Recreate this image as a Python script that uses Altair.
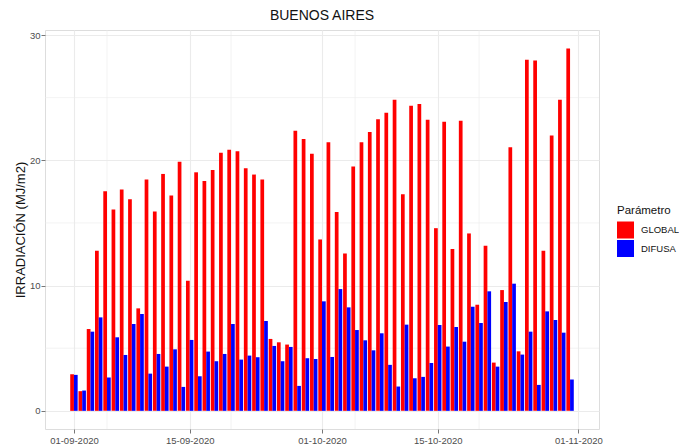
import altair as alt
import pandas as pd

fechas = pd.date_range("2020-09-01", "2020-10-31", freq="D").strftime("%Y-%m-%d").tolist()

global_vals = [2.92, 1.57, 6.53, 12.78, 17.53, 16.07, 17.66, 16.89, 8.18, 18.46,
               15.91, 18.91, 17.18, 19.89, 10.39, 19.04, 18.35, 19.23, 20.61, 20.85,
               20.72, 19.36, 18.86, 18.46, 5.74, 5.47, 5.29, 22.36, 21.70, 20.53,
               13.68, 21.43, 15.88, 12.56, 19.50, 21.43, 22.26, 23.27, 23.80, 24.83,
               17.29, 24.35, 24.49, 23.24, 14.58, 23.08, 12.91, 23.16, 14.16, 8.47,
               13.17, 3.85, 9.64, 21.04, 4.75, 28.02, 27.97, 12.78, 21.97, 24.83, 28.92]

difusa_vals = [2.87, 1.62, 6.32, 7.46, 2.66, 5.87, 4.46, 6.93, 7.73, 2.97,
               4.54, 3.53, 4.91, 1.91, 5.66, 2.76, 4.73, 3.96, 4.54, 6.93,
               4.09, 4.41, 4.28, 7.17, 5.18, 3.96, 5.10, 1.99, 4.20, 4.14,
               8.74, 4.30, 9.72, 8.26, 6.45, 5.63, 4.83, 6.19, 3.67, 1.94,
               6.88, 2.60, 2.71, 3.82, 6.85, 5.13, 6.69, 5.52, 8.31, 7.01,
               9.54, 3.53, 8.69, 10.15, 4.49, 6.32, 2.07, 7.94, 7.25, 6.24, 2.50]

parametros = ["GLOBAL", "DIFUSA"]
colores = ["#FF0000", "#0000FF"]

x_major = ["2020-09-01", "2020-09-15", "2020-10-01", "2020-10-15", "2020-11-01"]
x_minor = ["2020-09-05", "2020-09-20", "2020-10-05", "2020-10-20"]
y_major = [0, 10, 20, 30]
y_minor = [5, 15, 25]

FONT = "Liberation Sans"
GRID = "#EBEBEB"

df = pd.DataFrame({"fecha": fechas, "GLOBAL": global_vals, "DIFUSA": difusa_vals})

def dt(s, h=0):
    y, m, d = [int(v) for v in s.split("-")]
    return alt.DateTime(year=y, month=m, date=d, hours=h, utc=True)

x_scale = alt.Scale(type="utc", domain=[dt("2020-08-28", 12), dt("2020-11-03", 12)], nice=False)
y_scale = alt.Scale(domain=[-1.45, 30.4], nice=False, zero=False)

x_axis = alt.Axis(values=[dt(s) for s in x_major],
                  labelExpr="utcFormat(datum.value, '%d-%m-%Y')",
                  title=None, grid=True, gridColor=GRID, gridWidth=1.1,
                  labelFontSize=9.5, labelColor="#4D4D4D", labelFont=FONT,
                  tickColor="#777777", tickSize=4, labelPadding=2, domain=False,
                  labelFlush=False)
y_axis = alt.Axis(values=y_major, title="IRRADIACIÓN (MJ/m2)", grid=True,
                  gridColor=GRID, gridWidth=1.1, labelFontSize=9.5,
                  labelColor="#4D4D4D", labelFont=FONT, tickColor="#777777",
                  tickSize=4, labelPadding=1, domain=False,
                  titleFont=FONT, titleFontSize=13, titleFontWeight="normal",
                  titleColor="#111111", titleX=-25, titleY=199.5,
                  titleAngle=270, titleAlign="center", titleBaseline="middle")

bars = alt.Chart(df).transform_fold(
    parametros, as_=["param", "valor"]
).transform_calculate(
    x0="time(toDate(datum.fecha)) + (datum.param == 'GLOBAL' ? -0.45 : 0) * 86400000",
).transform_calculate(
    x1="datum.x0 + 0.45 * 86400000"
).mark_bar(strokeWidth=0).encode(
    x=alt.X("x0:T", scale=x_scale, axis=x_axis),
    x2="x1:T",
    y=alt.Y("valor:Q", scale=y_scale, axis=y_axis),
    y2=alt.datum(0),
    color=alt.Color("param:N", scale=alt.Scale(domain=parametros, range=colores),
                    sort=parametros,
                    legend=alt.Legend(title="Parámetro", orient="none", legendX=572, legendY=175,
                                      symbolType="square", symbolSize=289, symbolStrokeWidth=0,
                                      titleFont=FONT, titleFontSize=11.5, titleFontWeight="normal",
                                      titleColor="#111111", titlePadding=5,
                                      labelFont=FONT, labelFontSize=9.5, labelColor="#111111",
                                      labelOffset=7, rowPadding=1.5)),
)

minor_x = alt.Chart(pd.DataFrame({"d": x_minor})).transform_calculate(
    t="time(toDate(datum.d))"
).mark_rule(color=GRID, strokeWidth=0.6).encode(x=alt.X("t:T", scale=x_scale, axis=x_axis))

minor_y = alt.Chart(pd.DataFrame({"v": y_minor})).mark_rule(color=GRID, strokeWidth=0.6).encode(
    y=alt.Y("v:Q", scale=y_scale, axis=y_axis)
)

chart = alt.layer(minor_x, minor_y, bars).properties(
    width=554, height=399,
    title=alt.TitleParams("BUENOS AIRES", font=FONT, fontSize=14, fontWeight="normal",
                          color="#111111", anchor="middle", offset=7),
    autosize=alt.AutoSizeParams(type="none"),
    padding={"left": 37, "top": 22, "right": 80, "bottom": 16},
).configure_view(stroke="#8f8f8f", strokeWidth=1).configure(background="white")

chart.save("out.html", embed_options={"renderer": "svg", "actions": False})
